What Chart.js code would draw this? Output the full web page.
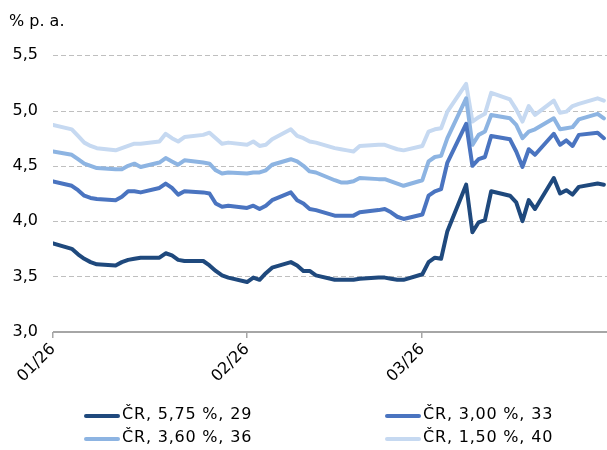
<!DOCTYPE html>
<html>
<head>
<meta charset="utf-8">
<script src="https://cdn.jsdelivr.net/npm/chart.js@4/dist/chart.umd.min.js"></script>
<style>
  html, body { margin: 0; padding: 0; background: #fff; overflow: hidden; }
  #wrap { position: relative; width: 607px; height: 450px; overflow: hidden; }
  canvas { display: block; }
  #legend { position: absolute; left: 0; top: 402px; width: 607px;
    font-family: "DejaVu Sans", Verdana, sans-serif; font-size: 16px; color: #000; letter-spacing: 0.8px; }
  .item { position: absolute; height: 23px; line-height: 23px; white-space: nowrap; }
  .swatch { display: inline-block; width: 36px; height: 4px; border-radius: 2px; vertical-align: middle; margin-right: 2px; position: relative; top: 1px; }
</style>
</head>
<body>
<div id="wrap">
  <canvas id="bondsChart" width="607" height="450"></canvas>
  <div id="legend"></div>
</div>
<script>
// trading days, Jan-Mar 2026
const dates = [
  "2026-01-02",
  "2026-01-05", "2026-01-06", "2026-01-07", "2026-01-08", "2026-01-09",
  "2026-01-12", "2026-01-13", "2026-01-14", "2026-01-15", "2026-01-16",
  "2026-01-19", "2026-01-20", "2026-01-21", "2026-01-22", "2026-01-23",
  "2026-01-26", "2026-01-27", "2026-01-28", "2026-01-29", "2026-01-30",
  "2026-02-02", "2026-02-03", "2026-02-04", "2026-02-05", "2026-02-06",
  "2026-02-09", "2026-02-10", "2026-02-11", "2026-02-12", "2026-02-13",
  "2026-02-16", "2026-02-17", "2026-02-18", "2026-02-19", "2026-02-20",
  "2026-02-23", "2026-02-24", "2026-02-25", "2026-02-26", "2026-02-27",
  "2026-03-02", "2026-03-03", "2026-03-04", "2026-03-05", "2026-03-06",
  "2026-03-09", "2026-03-10", "2026-03-11", "2026-03-12", "2026-03-13",
  "2026-03-16", "2026-03-17", "2026-03-18", "2026-03-19", "2026-03-20",
  "2026-03-23", "2026-03-24", "2026-03-25", "2026-03-26", "2026-03-27",
  "2026-03-30", "2026-03-31",
];

const cr575 = [3.80,
  3.75, 3.70, 3.66, 3.63, 3.61, 3.60, 3.63, 3.65, 3.66, 3.67,
  3.67, 3.71, 3.69, 3.65, 3.64, 3.64, 3.60, 3.55, 3.51, 3.49,
  3.45, 3.49, 3.47, 3.53, 3.58, 3.63, 3.60, 3.55, 3.55, 3.51,
  3.47, 3.47, 3.47, 3.47, 3.48, 3.49, 3.49, 3.48, 3.47, 3.47,
  3.52, 3.63, 3.67, 3.66, 3.91, 4.33, 3.90, 3.99, 4.01, 4.27,
  4.23, 4.17, 4.00, 4.19, 4.11, 4.39, 4.25, 4.28, 4.24, 4.31,
  4.34, 4.33];
const cr300 = [4.36,
  4.32, 4.28, 4.23, 4.21, 4.20, 4.19, 4.22, 4.27, 4.27, 4.26,
  4.30, 4.34, 4.30, 4.24, 4.27, 4.26, 4.25, 4.16, 4.13, 4.14,
  4.12, 4.14, 4.11, 4.14, 4.19, 4.26, 4.19, 4.16, 4.11, 4.10,
  4.05, 4.05, 4.05, 4.05, 4.08, 4.10, 4.11, 4.08, 4.04, 4.02,
  4.06, 4.23, 4.27, 4.29, 4.53, 4.88, 4.50, 4.56, 4.58, 4.77,
  4.74, 4.63, 4.49, 4.65, 4.60, 4.79, 4.69, 4.73, 4.68, 4.78,
  4.80, 4.75];
const cr360 = [4.63,
  4.60, 4.56, 4.52, 4.50, 4.48, 4.47, 4.47, 4.50, 4.52, 4.49,
  4.53, 4.57, 4.54, 4.51, 4.55, 4.53, 4.52, 4.46, 4.43, 4.44,
  4.43, 4.44, 4.44, 4.46, 4.51, 4.56, 4.54, 4.50, 4.45, 4.44,
  4.37, 4.35, 4.35, 4.36, 4.39, 4.38, 4.38, 4.36, 4.34, 4.32,
  4.37, 4.54, 4.58, 4.59, 4.75, 5.11, 4.69, 4.78, 4.81, 4.96,
  4.93, 4.87, 4.75, 4.81, 4.83, 4.93, 4.83, 4.84, 4.85, 4.92,
  4.97, 4.93];
const cr150 = [4.87,
  4.83, 4.77, 4.71, 4.68, 4.66, 4.64, 4.66, 4.68, 4.70, 4.70,
  4.72, 4.79, 4.75, 4.72, 4.76, 4.78, 4.80, 4.75, 4.70, 4.71,
  4.69, 4.72, 4.68, 4.69, 4.74, 4.83, 4.77, 4.75, 4.72, 4.71,
  4.66, 4.65, 4.64, 4.63, 4.68, 4.69, 4.69, 4.67, 4.65, 4.64,
  4.68, 4.81, 4.83, 4.84, 4.99, 5.24, 4.90, 4.94, 4.97, 5.16,
  5.10, 5.01, 4.90, 5.04, 4.96, 5.09, 4.98, 4.99, 5.04, 5.06,
  5.11, 5.09];

const seriesLabels = ["ČR, 5,75 %, 29", "ČR, 3,00 %, 33", "ČR, 3,60 %, 36", "ČR, 1,50 %, 40"];
const seriesColors = ["#1f497d", "#4a74c0", "#8db4e2", "#c6d9f1"];
const tickDates = ["2026-01-02", "2026-02-02", "2026-03-02"];
const tickLabels = ["01/26", "02/26", "03/26"];

const FONT = "'DejaVu Sans', Verdana, sans-serif";

// days since 1 Jan 2026
function dayOf(s) {
  const [y, m, d] = s.split("-").map(Number);
  return (Date.UTC(y, m - 1, d) - Date.UTC(2026, 0, 1)) / 864e5;
}

const days = dates.map(dayOf);
const toPoints = (vals) => vals.map((v, i) => ({ x: days[i], y: v }));

// gridlines, axis line and tick marks painted as filled rects
const axisPaint = {
  id: "axisPaint",
  beforeDatasetsDraw(chart) {
    const { ctx, chartArea, scales } = chart;
    ctx.save();
    ctx.fillStyle = "#bfbfbf";
    scales.y.ticks.forEach((t) => {
      if (t.value === scales.y.min) return;
      const y = Math.round(scales.y.getPixelForValue(t.value));
      for (let x = chartArea.left; x < chartArea.right; x += 8) {
        ctx.fillRect(x, y, Math.min(5, chartArea.right - x), 1);
      }
    });
    ctx.restore();
  },
  afterDatasetsDraw(chart) {
    const { ctx, chartArea, scales } = chart;
    const y0 = Math.round(chartArea.bottom);
    ctx.save();
    ctx.fillStyle = "#a6a6a6";
    ctx.fillRect(chartArea.left, y0 - 1, chartArea.right - chartArea.left, 2);
    scales.x.ticks.forEach((t) => {
      const x = Math.round(scales.x.getPixelForValue(t.value));
      ctx.fillRect(x - 1, y0, 1.5, 6);
    });
    ctx.restore();
  },
};

const ctx = document.getElementById("bondsChart").getContext("2d");

const chart = new Chart(ctx, {
  type: "line",
  data: {
    datasets: [cr575, cr300, cr360, cr150].map((vals, i) => ({
      label: seriesLabels[i],
      data: toPoints(vals),
      borderColor: seriesColors[i],
      backgroundColor: seriesColors[i],
      borderWidth: 4,
      pointRadius: 0,
      tension: 0,
      borderJoinStyle: "round",
      borderCapStyle: "round",
    })),
  },
  options: {
    responsive: false,
    animation: false,
    layout: { padding: { left: 9, right: 0, top: 0, bottom: 62 } },
    plugins: {
      legend: { display: false },
      tooltip: { enabled: false },
      title: {
        display: true,
        text: "% p. a.",
        align: "start",
        color: "#000",
        font: { family: FONT, size: 16, weight: "normal" },
        padding: { top: 12, bottom: 24 },
      },
    },
    scales: {
      x: {
        type: "linear",
        min: days[0],
        max: days[days.length - 1] + 0.5,
        afterBuildTicks: (axis) => {
          axis.ticks = tickDates.map((d) => ({ value: dayOf(d) }));
        },
        ticks: {
          autoSkip: false,
          minRotation: 45,
          maxRotation: 45,
          padding: 2,
          color: "#000",
          font: { family: FONT, size: 16 },
          callback: (v, i) => tickLabels[i],
        },
        grid: { drawOnChartArea: false, drawTicks: true, tickLength: 6, color: "rgba(0,0,0,0)" },
        border: { display: false },
      },
      y: {
        min: 3,
        max: 5.5,
        afterFit: (axis) => { axis.width = 44; },
        ticks: {
          stepSize: 0.5,
          padding: 15,
          color: "#000",
          font: { family: FONT, size: 16 },
          callback: (v) => v.toFixed(1).replace(".", ","),
        },
        grid: { drawTicks: false, color: "rgba(0,0,0,0)" },
        border: { display: false },
      },
    },
  },
  plugins: [axisPaint],
});

// legend in two columns below the chart
const legend = document.getElementById("legend");
const legendPos = [[84, 0], [385, 0], [84, 23], [385, 23]];
seriesLabels.forEach((label, i) => {
  const item = document.createElement("div");
  item.className = "item";
  item.style.left = legendPos[i][0] + "px";
  item.style.top = legendPos[i][1] + "px";
  item.innerHTML = '<span class="swatch" style="background:' + seriesColors[i] + '"></span>' + label;
  legend.appendChild(item);
});
</script>
</body>
</html>
